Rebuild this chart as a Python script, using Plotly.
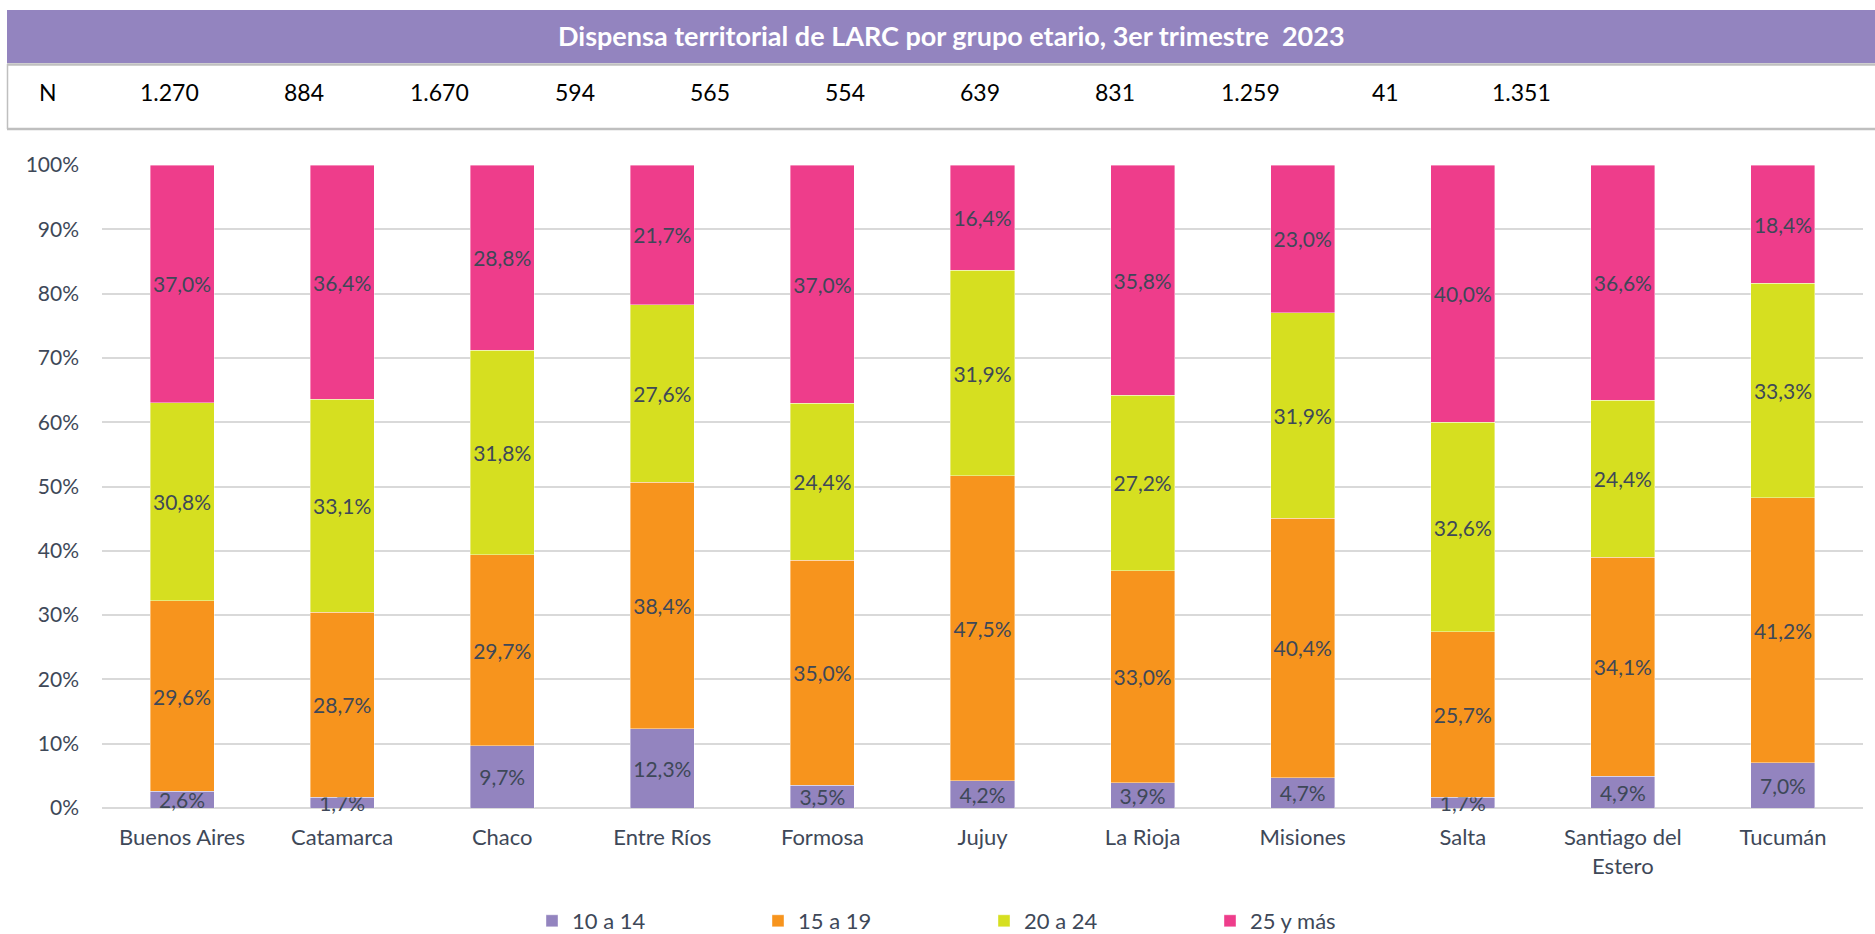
import plotly.graph_objects as go

# Provinces and age groups
provincias = ["Buenos Aires", "Catamarca", "Chaco", "Entre Ríos", "Formosa", "Jujuy",
              "La Rioja", "Misiones", "Salta", "Santiago del<br>Estero", "Tucumán"]
n_totales = ["1.270", "884", "1.670", "594", "565", "554", "639", "831", "1.259", "41", "1.351"]

grupos = ["10 a 14", "15 a 19", "20 a 24", "25 y más"]
g_10_14 = [2.6, 1.7, 9.7, 12.3, 3.5, 4.2, 3.9, 4.7, 1.7, 4.9, 7.0]
g_15_19 = [29.6, 28.7, 29.7, 38.4, 35.0, 47.5, 33.0, 40.4, 25.7, 34.1, 41.2]
g_20_24 = [30.8, 33.1, 31.8, 27.6, 24.4, 31.9, 27.2, 31.9, 32.6, 24.4, 33.3]
g_25_mas = [37.0, 36.4, 28.8, 21.7, 37.0, 16.4, 35.8, 23.0, 40.0, 36.6, 18.4]

colores = ["#9384bf", "#f7941d", "#d6df20", "#ee3d8b"]
series = [g_10_14, g_15_19, g_20_24, g_25_mas]

FONT = "Lato"
TXT = "#3e4858"

W, H = 1875, 934
L, R, T, B = 102, 12, 165, 126
PW, PH = W - L - R, H - T - B


def px(x):
    return (x - L) / PW


def py(y):
    return (H - B - y) / PH


fig = go.Figure()
for nombre, vals, col in zip(grupos, series, colores):
    fig.add_trace(go.Bar(
        name=nombre,
        x=provincias,
        y=vals,
        marker=dict(color=col, line=dict(color="rgba(255,255,255,0.5)", width=0.8)),
        text=[f"{v:.1f}%".replace(".", ",") for v in vals],
        textposition="inside",
        insidetextanchor="middle",
        textangle=0,
        constraintext="none",
        textfont=dict(family=FONT, size=21, color=TXT),
        cliponaxis=False,
        hoverinfo="skip",
    ))

shapes = [
    # title band
    dict(type="rect", xref="paper", yref="paper", x0=px(7), x1=px(1875), y0=py(63), y1=py(10),
         fillcolor="#9384bf", line=dict(width=0), layer="above"),
    # N row box
    dict(type="line", xref="paper", yref="paper", x0=px(7.5), x1=px(7.5), y0=py(129), y1=py(64),
         line=dict(color="#bfbfbf", width=1.5)),
    dict(type="line", xref="paper", yref="paper", x0=px(7), x1=px(1875), y0=py(129), y1=py(129),
         line=dict(color="#bfbfbf", width=2.5)),
    dict(type="line", xref="paper", yref="paper", x0=px(7), x1=px(1875), y0=py(64.5), y1=py(64.5),
         line=dict(color="#bfbfbf", width=2.5)),
]

annotations = [
    dict(text="<b>Dispensa territorial de LARC por grupo etario, 3er trimestre  2023</b>",
         xref="paper", yref="paper", x=px(951), y=py(36), xanchor="center", yanchor="middle",
         showarrow=False, font=dict(family=FONT, size=27, color="white")),
    dict(text="N", xref="paper", yref="paper", x=px(48), y=py(92), xanchor="center",
         yanchor="middle", showarrow=False, font=dict(family=FONT, size=23, color="black")),
]
x0_n, paso_n = 169, 135.2
for i, n in enumerate(n_totales):
    annotations.append(dict(text=n, xref="paper", yref="paper", x=px(x0_n + i * paso_n), y=py(92),
                            xanchor="center", yanchor="middle", showarrow=False,
                            font=dict(family=FONT, size=23, color="black")))

fig.update_layout(
    width=W, height=H,
    margin=dict(l=L, r=R, t=T, b=B, pad=0, autoexpand=False),
    barmode="stack",
    barnorm="percent",
    bargap=0.6,
    paper_bgcolor="white",
    plot_bgcolor="white",
    font=dict(family=FONT, size=21, color=TXT),
    shapes=shapes,
    annotations=annotations,
    showlegend=True,
    legend=dict(orientation="h", x=px(532), xanchor="left", y=py(921), yanchor="middle",
                entrywidth=181, font=dict(family=FONT, size=22, color=TXT),
                traceorder="normal", itemclick=False, tracegroupgap=0),
    uniformtext=dict(mode=False),
)
fig.update_xaxes(showgrid=False, showline=False, ticks="", tickfont=dict(family=FONT, size=22, color=TXT),
                 ticklabelstandoff=14, fixedrange=True, automargin=False)
fig.update_yaxes(range=[0, 100], dtick=10, ticksuffix="%", showgrid=True, gridcolor="#d9d9d9",
                 gridwidth=1.5, zeroline=True, zerolinecolor="#d9d9d9", zerolinewidth=2,
                 showline=False, ticks="", tickfont=dict(family=FONT, size=21, color=TXT),
                 ticklabelstandoff=22, fixedrange=True, automargin=False)

fig.write_html("out.html", config={"displayModeBar": False})
